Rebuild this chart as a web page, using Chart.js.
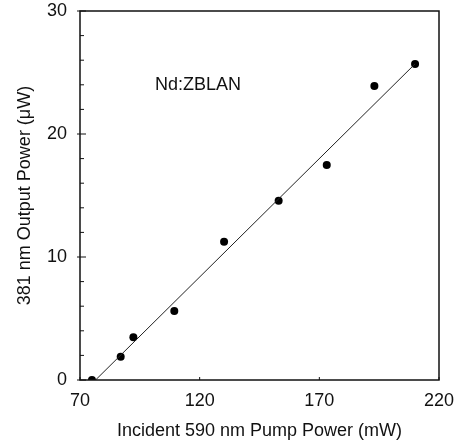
<!DOCTYPE html>
<html>
<head>
<meta charset="utf-8">
<script src="https://cdn.jsdelivr.net/npm/chart.js@4.4.1/dist/chart.umd.min.js"></script>
<style>
  html, body { margin: 0; padding: 0; background: #fff; }
  #wrap { width: 456px; height: 442px; position: relative; }
</style>
</head>
<body>
<div id="wrap"><canvas id="chart"></canvas></div>
<script>
// measured points
const pumpPower = [75, 87, 92.3, 109.4, 130.2, 153, 173.1, 193, 210];
const outputPower = [0, 1.9, 3.47, 5.6, 11.23, 14.57, 17.47, 23.9, 25.7];

// linear fit drawn through the data
const fitX = [76.5, 210];
const fitY = [0, 25.7];

const sampleLabel = 'Nd:ZBLAN';
const labelPos = { x: 101.3, y: 24.0 };

const FONT = '"Liberation Sans", Arial, Helvetica, sans-serif';

// frame + inward ticks + sample label
const framePlugin = {
    id: 'frame',
    afterDraw(chart) {
        const ctx = chart.ctx;
        const a = chart.chartArea;
        const xs = chart.scales.x;
        const ys = chart.scales.y;
        ctx.save();
        ctx.strokeStyle = '#111';
        ctx.lineWidth = 1.5;
        ctx.strokeRect(a.left, a.top, a.right - a.left, a.bottom - a.top);

        ctx.lineWidth = 1;
        ys.ticks.forEach(t => {
            const py = ys.getPixelForValue(t.value);
            ctx.beginPath();
            if (t.value % 10 === 0) {
                ctx.moveTo(a.left - 3, py);
                ctx.lineTo(a.left + 6, py);
            } else {
                ctx.moveTo(a.left, py);
                ctx.lineTo(a.left + 4, py);
            }
            ctx.stroke();
        });
        xs.ticks.forEach(t => {
            const px = xs.getPixelForValue(t.value);
            ctx.beginPath();
            ctx.moveTo(px, a.bottom);
            ctx.lineTo(px, a.bottom - 3);
            ctx.stroke();
        });

        ctx.fillStyle = '#111';
        ctx.font = '18px ' + FONT;
        ctx.textAlign = 'left';
        ctx.textBaseline = 'middle';
        ctx.fillText(sampleLabel, xs.getPixelForValue(labelPos.x), ys.getPixelForValue(labelPos.y));
        ctx.restore();
    }
};

new Chart(document.getElementById('chart').getContext('2d'), {
    type: 'scatter',
    data: {
        datasets: [
            {
                label: 'fit',
                data: fitX.map((x, i) => ({ x: x, y: fitY[i] })),
                showLine: true,
                borderColor: '#222',
                borderWidth: 1,
                pointRadius: 0,
                fill: false
            },
            {
                label: 'data',
                data: pumpPower.map((x, i) => ({ x: x, y: outputPower[i] })),
                backgroundColor: '#000',
                borderColor: '#000',
                pointRadius: 4,
                borderWidth: 0
            }
        ]
    },
    options: {
        responsive: true,
        maintainAspectRatio: false,
        animation: false,
        layout: { padding: { left: 0, right: 17, top: 11, bottom: 0 } },
        plugins: {
            legend: { display: false },
            tooltip: { enabled: false }
        },
        scales: {
            x: {
                type: 'linear',
                min: 70,
                max: 220,
                grid: { display: false, drawTicks: false },
                border: { display: false },
                ticks: {
                    stepSize: 50,
                    padding: 10,
                    color: '#111',
                    font: { family: FONT, size: 18 },
                    maxRotation: 0
                },
                title: {
                    display: true,
                    text: 'Incident 590 nm Pump Power (mW)',
                    color: '#111',
                    font: { family: FONT, size: 18 },
                    padding: { top: 0, bottom: 0 }
                },
                afterFit(scale) {
                    scale.height = 62;
                    scale.paddingLeft = 0;
                    scale.paddingRight = 0;
                }
            },
            y: {
                type: 'linear',
                min: 0,
                max: 30,
                grid: { display: false, drawTicks: false },
                border: { display: false },
                ticks: {
                    stepSize: 2,
                    autoSkip: false,
                    padding: 13,
                    color: '#111',
                    font: { family: FONT, size: 18 },
                    callback: v => (v % 10 === 0 ? String(v) : '')
                },
                title: {
                    display: true,
                    text: '381 nm Output Power (\u03bcW)',
                    color: '#111',
                    font: { family: FONT, size: 18 },
                    padding: { top: 14, bottom: 0 }
                },
                afterFit(scale) {
                    scale.width = 80;
                    scale.paddingTop = 0;
                    scale.paddingBottom = 0;
                }
            }
        }
    },
    plugins: [framePlugin]
});
</script>
</body>
</html>
